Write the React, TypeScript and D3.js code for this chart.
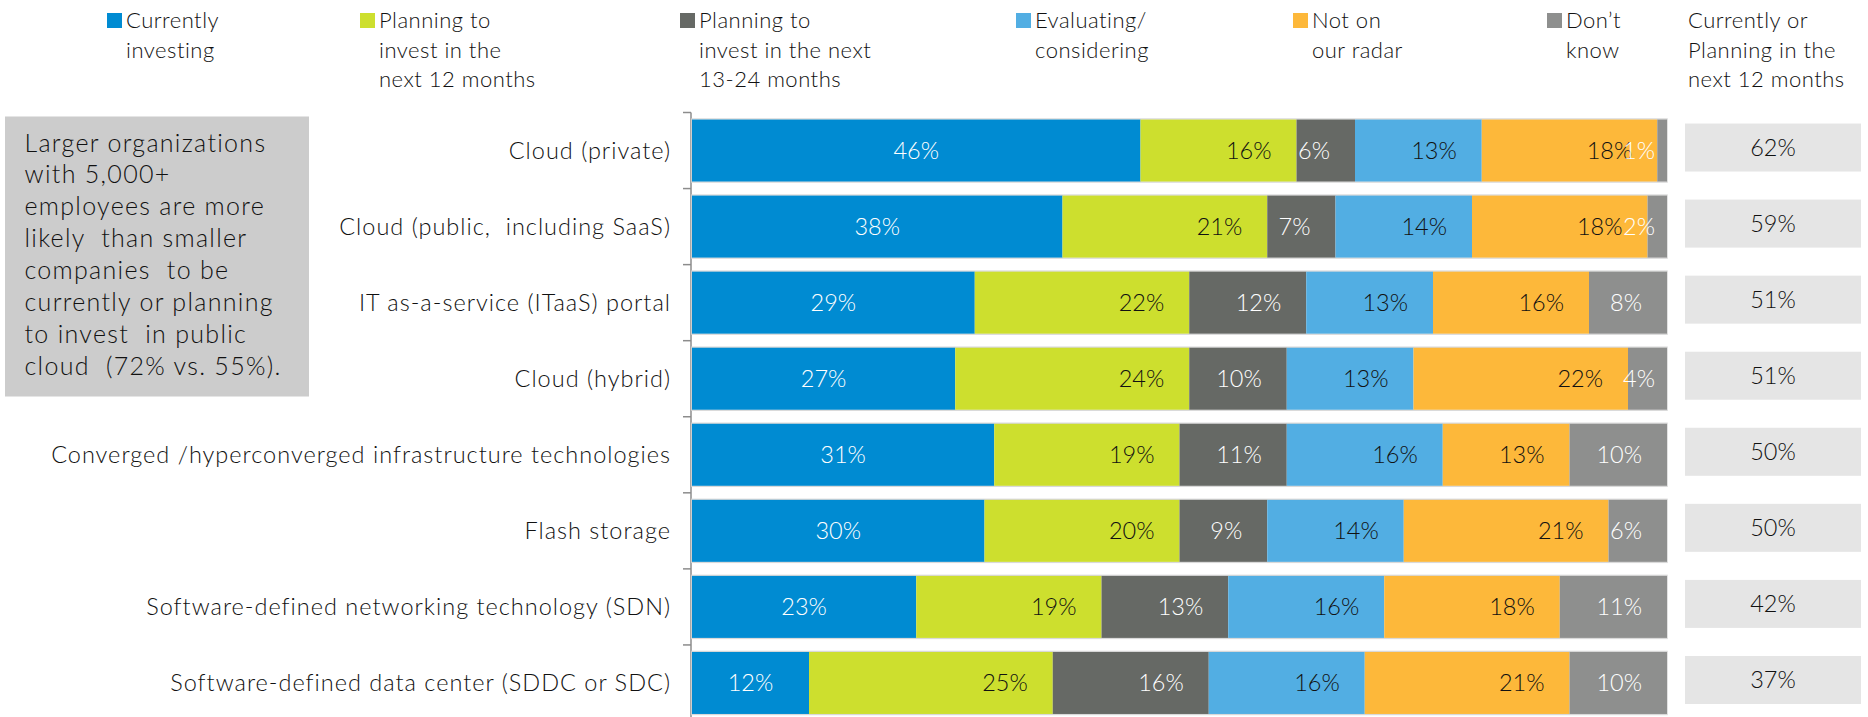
import React from "react";
import * as d3 from "d3";

const categories = [
  "Cloud (private)",
  "Cloud (public,  including SaaS)",
  "IT as-a-service (ITaaS) portal",
  "Cloud (hybrid)",
  "Converged /hyperconverged infrastructure technologies",
  "Flash storage",
  "Software-defined networking technology (SDN)",
  "Software-defined data center (SDDC or SDC)",
];

const currentlyInvesting = [46, 38, 29, 27, 31, 30, 23, 12];
const planning12 = [16, 21, 22, 24, 19, 20, 19, 25];
const planning1324 = [6, 7, 12, 10, 11, 9, 13, 16];
const evaluating = [13, 14, 13, 13, 16, 14, 16, 16];
const notOnRadar = [18, 18, 16, 22, 13, 21, 18, 21];
const dontKnow = [1, 2, 8, 4, 10, 6, 11, 10];
const currentOrPlanning12 = [62, 59, 51, 51, 50, 50, 42, 37];

const seriesLegend = [
  ["Currently", "investing"],
  ["Planning to", "invest in the", "next 12 months"],
  ["Planning to", "invest in the next", "13-24 months"],
  ["Evaluating/", "considering"],
  ["Not on", "our radar"],
  ["Don\u2019t", "know"],
];
const sideHeader = ["Currently or", "Planning in the", "next 12 months"];
const noteLines = [
  "Larger organizations",
  "with 5,000+",
  "employees are more",
  "likely  than smaller",
  "companies  to be",
  "currently or planning",
  "to invest  in public",
  "cloud  (72% vs. 55%).",
];

// styles / layout (not data)
const colors = ["#008BD2", "#CDDF2E", "#666965", "#52AEE3", "#FDB83A", "#8E8F8E"];
const labelColors = ["#ffffff", "#111111", "#ffffff", "#111111", "#111111", "#ffffff"];
const legendX = [107, 360, 680, 1016, 1293, 1547];
const FONT = "Lato, 'Open Sans', sans-serif";

export default function App() {
  const W = 1868;
  const H = 717;
  const series = [currentlyInvesting, planning12, planning1324, evaluating, notOnRadar, dontKnow];
  const rows = categories.map((c, i) => {
    const r: any = { cat: c };
    series.forEach((s, k) => (r["s" + k] = s[i]));
    return r;
  });
  const keys = series.map((_, k) => "s" + k);
  const stacked = d3.stack().keys(keys)(rows);

  const top = 112.5;
  const bottom = 721;
  const x = d3.scaleLinear().domain([0, 100]).range([692, 1667]);
  const y = d3.scaleBand().domain(categories).range([top, bottom]).paddingInner(0.185).paddingOuter(0.0925);
  const step = y.step();
  const axisX = 691;

  return (
    <svg width={W} height={H} style={{ position: "absolute", left: 0, top: 0, background: "#fff" }} fontFamily={FONT}>
      {/* legend */}
      {seriesLegend.map((lines, k) => (
        <g key={"lg" + k}>
          <rect x={legendX[k]} y={13} width={15} height={15} fill={colors[k]} />
          {lines.map((t, j) => (
            <text key={j} x={legendX[k] + 19} y={28 + j * 29.5} fontSize={22} fontWeight={300} letterSpacing={0.5} fill="#111">
              {t}
            </text>
          ))}
        </g>
      ))}
      {sideHeader.map((t, j) => (
        <text key={"sh" + j} x={1688} y={28 + j * 29.5} fontSize={22} fontWeight={300} letterSpacing={0.5} fill="#111">
          {t}
        </text>
      ))}

      {/* note box */}
      <rect x={5} y={116.5} width={304} height={280} fill="#CCCCCC" />
      {noteLines.map((t, j) => (
        <text key={"n" + j} x={24.5} y={151.5 + j * 31.9} fontSize={25} fontWeight={300} letterSpacing={1.3} fill="#111" style={{ whiteSpace: "pre" }}>
          {t}
        </text>
      ))}

      {/* axis */}
      <line x1={axisX} x2={axisX} y1={top} y2={H} stroke="#8c8c8c" strokeWidth={1.5} />
      {d3.range(categories.length + 1).map((k) => (
        <line key={"t" + k} x1={axisX - 8} x2={axisX} y1={top + k * step} y2={top + k * step} stroke="#8c8c8c" strokeWidth={1.5} />
      ))}

      {/* category labels */}
      {categories.map((c) => (
        <text key={c} x={671} y={(y(c) as number) + y.bandwidth() / 2} dy="0.35em" textAnchor="end" fontSize={23.5} fontWeight={300} letterSpacing={1} fill="#111" style={{ whiteSpace: "pre" }}>
          {c}
        </text>
      ))}

      {/* bars */}
      {categories.map((c) => (
        <rect key={"o" + c} x={x(0)} y={(y(c) as number) - 0.5} width={x(100) - x(0)} height={y.bandwidth() + 1} fill="none" stroke="#d9d9d9" strokeWidth={1.5} />
      ))}
      {stacked.map((layer, k) => (
        <g key={"layer" + k}>
          {layer.map((d, i) => (
            <rect key={i} x={x(d[0])} y={y(categories[i]) as number} width={x(d[1]) - x(d[0])} height={y.bandwidth()} fill={colors[k]} />
          ))}
        </g>
      ))}
      {stacked.map((layer, k) => (
        <g key={"lab" + k}>
          {layer.map((d, i) => {
            const x0 = x(d[0]);
            const x1 = x(d[1]);
            const w = x1 - x0;
            const cy = (y(categories[i]) as number) + y.bandwidth() / 2;
            const centered = k === 0;
            const lx = centered ? (x0 + x1) / 2 : x1 - (w < 50 ? 12 : 25);
            return (
              <text key={i} x={lx} y={cy} dy="0.35em" textAnchor={centered ? "middle" : "end"} fontSize={23.5} fontWeight={300} fill={labelColors[k]}>
                {series[k][i]}%
              </text>
            );
          })}
        </g>
      ))}

      {/* right column */}
      {categories.map((c, i) => {
        const cy = (y(c) as number) + y.bandwidth() / 2 - 3;
        return (
          <g key={"r" + c}>
            <rect x={1685} y={cy - 24} width={176} height={48} fill="#E5E5E5" />
            <text x={1773} y={cy} dy="0.35em" textAnchor="middle" fontSize={23.5} fontWeight={300} fill="#111">
              {currentOrPlanning12[i]}%
            </text>
          </g>
        );
      })}
    </svg>
  );
}
